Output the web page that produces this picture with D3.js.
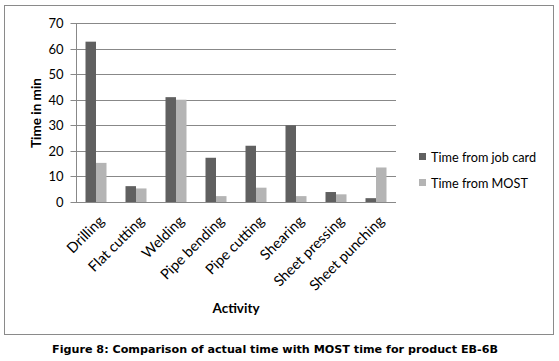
<!DOCTYPE html>
<html><head><meta charset="utf-8">
<script src="https://cdn.jsdelivr.net/npm/d3@7"></script>
<style>body{margin:0;background:#fff}svg{display:block}</style>
</head><body>
<svg id="c" width="559" height="361"></svg>
<script>
const categories = ["Drilling","Flat cutting","Welding","Pipe bending","Pipe cutting","Shearing","Sheet pressing","Sheet punching"];
const jobCard = [62.7, 6.2, 41, 17.3, 22, 30, 3.9, 1.5];
const most = [15.3, 5.3, 40, 2.3, 5.6, 2.3, 3.0, 13.5];
const seriesNames = ["Time from job card","Time from MOST"];
const yTicks = [0,10,20,30,40,50,60,70];

(function(){
const svg = d3.select("#c");
const font = "Lato, 'Open Sans', sans-serif";
const colors = ["#606060","#b4b4b4"];
const pl = 76, pr = 396, pt = 23, pb = 202;

svg.append("rect").attr("x",4.5).attr("y",5.5).attr("width",549).attr("height",329)
  .attr("fill","#fff").attr("stroke","#8a8a8a").attr("stroke-width",1);

const x = d3.scaleBand().domain(categories).range([pl,pr]).paddingInner(0).paddingOuter(0);
const y = d3.scaleLinear().domain([0,70]).range([pb,pt]);

svg.append("g").selectAll("line").data(yTicks).join("line")
  .attr("x1",pl).attr("x2",pr)
  .attr("y1",d=>Math.round(y(d))+0.5).attr("y2",d=>Math.round(y(d))+0.5)
  .attr("stroke","#888").attr("stroke-width",1);

const bw = 10.5;
const series = [jobCard, most];
series.forEach((vals,si)=>{
  svg.append("g").selectAll("rect").data(vals).join("rect")
    .attr("x",(d,i)=>x(categories[i]) + x.bandwidth()/2 - bw + si*bw)
    .attr("y",d=>y(d)).attr("width",bw).attr("height",d=>pb - y(d))
    .attr("fill",colors[si]);
});

const yAxis = d3.axisLeft(y).tickValues(yTicks).tickSize(6).tickPadding(7);
const ya = svg.append("g").attr("transform",`translate(${pl+0.5},0)`).call(yAxis);
ya.select(".domain").attr("stroke","#888").attr("d",`M0,${pt}V${pb}`);
ya.selectAll(".tick line").attr("stroke","#888");
ya.selectAll(".tick text").attr("font-family",font).attr("font-size",13).attr("fill","#000");
ya.selectAll(".tick").attr("transform",d=>`translate(0,${Math.round(y(d))+0.5})`);

const xa = svg.append("g").attr("transform",`translate(0,${pb})`)
  .call(d3.axisBottom(x).tickSize(0).tickPadding(0));
xa.select(".domain").remove();
xa.selectAll(".tick text")
  .attr("font-family",font).attr("font-size",14.5).attr("fill","#000")
  .attr("text-anchor","end").attr("dy",0).attr("y",0)
  .attr("transform","translate(9,20) rotate(-45)");

svg.append("text").attr("transform","translate(41,113) rotate(-90)")
  .attr("text-anchor","middle").attr("font-family",font).attr("font-weight","bold")
  .attr("font-size",13.5).text("Time in min");
svg.append("text").attr("x",236).attr("y",313).attr("text-anchor","middle")
  .attr("font-family",font).attr("font-weight","bold").attr("font-size",13.5).text("Activity");

const lg = svg.append("g");
seriesNames.forEach((n,i)=>{
  const yy = 157 + i*26;
  lg.append("rect").attr("x",419).attr("y",yy-4).attr("width",7).attr("height",7).attr("fill",colors[i]);
  lg.append("text").attr("x",431).attr("y",yy+4.5).attr("font-family",font).attr("font-size",12.7).text(n);
});

svg.append("text").attr("x",275).attr("y",353).attr("text-anchor","middle")
  .attr("font-family","'DejaVu Sans', sans-serif").attr("font-weight","bold").attr("font-size",11)
  .attr("textLength",446).attr("lengthAdjust","spacingAndGlyphs")
  .text("Figure 8: Comparison of actual time with MOST time for product EB-6B");
})();
</script>
</body></html>
